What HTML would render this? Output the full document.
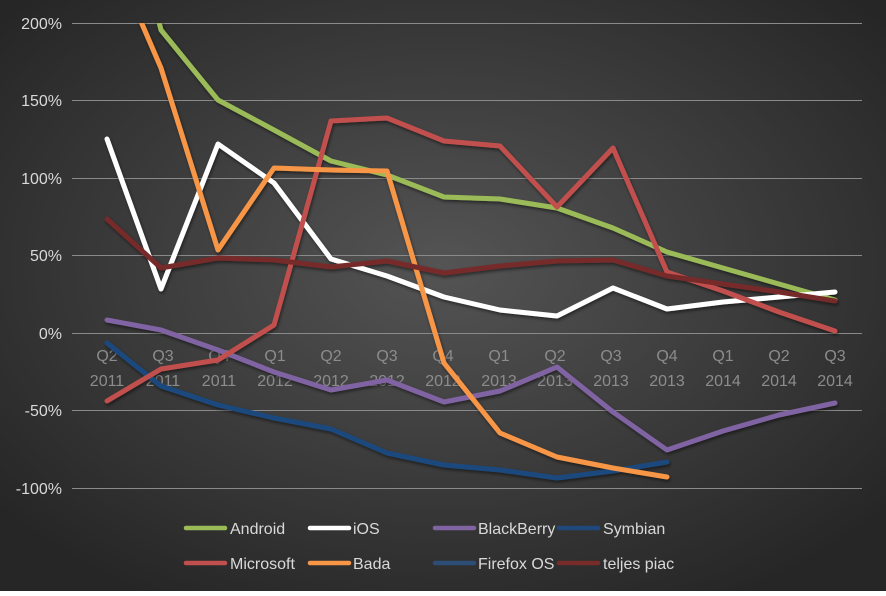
<!DOCTYPE html><html><head><style>body{margin:0;width:886px;height:591px;overflow:hidden}</style></head><body>
<svg width="886" height="591" xmlns="http://www.w3.org/2000/svg" font-family="Liberation Sans, sans-serif">
<defs><radialGradient id="bg" cx="50%" cy="45%" r="65%"><stop offset="0" stop-color="#545454"/><stop offset="1" stop-color="#262626"/></radialGradient>
<clipPath id="c"><rect x="60" y="23" width="820" height="480"/></clipPath>
<filter id="sh"><feDropShadow dx="1" dy="2" stdDeviation="1.5" flood-color="#000" flood-opacity="0.5"/></filter></defs>
<rect width="886" height="591" fill="url(#bg)"/>
<g stroke="#8a8a8a" stroke-width="1"><line x1="72" x2="862" y1="23.5" y2="23.5"/><line x1="72" x2="862" y1="100.5" y2="100.5"/><line x1="72" x2="862" y1="178.5" y2="178.5"/><line x1="72" x2="862" y1="255.5" y2="255.5"/><line x1="72" x2="862" y1="333.5" y2="333.5"/><line x1="72" x2="862" y1="410.5" y2="410.5"/><line x1="72" x2="862" y1="488.5" y2="488.5"/></g>
<g fill="#d9d9d9" font-size="16" text-anchor="end"><text x="62" y="29">200%</text><text x="62" y="106">150%</text><text x="62" y="184">100%</text><text x="62" y="261">50%</text><text x="62" y="339">0%</text><text x="62" y="416">-50%</text><text x="62" y="494">-100%</text></g>
<g fill="#8c8c8c" font-size="16" text-anchor="middle">
<text x="107" y="361">Q2</text><text x="107" y="386">2011</text>
<text x="163" y="361">Q3</text><text x="163" y="386">2011</text>
<text x="219" y="361">Q4</text><text x="219" y="386">2011</text>
<text x="275" y="361">Q1</text><text x="275" y="386">2012</text>
<text x="331" y="361">Q2</text><text x="331" y="386">2012</text>
<text x="387" y="361">Q3</text><text x="387" y="386">2012</text>
<text x="443" y="361">Q4</text><text x="443" y="386">2012</text>
<text x="499" y="361">Q1</text><text x="499" y="386">2013</text>
<text x="555" y="361">Q2</text><text x="555" y="386">2013</text>
<text x="611" y="361">Q3</text><text x="611" y="386">2013</text>
<text x="667" y="361">Q4</text><text x="667" y="386">2013</text>
<text x="723" y="361">Q1</text><text x="723" y="386">2014</text>
<text x="779" y="361">Q2</text><text x="779" y="386">2014</text>
<text x="835" y="361">Q3</text><text x="835" y="386">2014</text></g>
<g clip-path="url(#c)" fill="none" stroke-width="5" stroke-linejoin="round" stroke-linecap="round" filter="url(#sh)">
<polyline stroke="#9bbb59" points="156,10 161,30 218,100 274,130 331,161 387,175 444,197 500,199 557,208 613,228 667,252 723,268 779,284 835,300"/>
<polyline stroke="#ffffff" points="107,139 161,289 218,144 274,183 331,259 387,276 444,297 500,310 557,316 613,288 667,309 723,302 779,297 835,292"/>
<polyline stroke="#8064a2" points="107,320 161,330 218,350 274,372 331,390 387,380 444,402 500,391 557,367 613,412 667,450 723,431 779,415 835,403"/>
<polyline stroke="#1f497d" points="107,343 161,386 218,405 274,418 331,429 387,453 444,465 500,470 557,478 613,471 667,462"/>
<polyline stroke="#c0504d" points="107,401 161,369 218,360 274,325 331,121 387,118 444,141 500,146 557,207 613,148 667,272 723,291 779,312 835,331"/>
<polyline stroke="#f79646" points="136,10 161,68 218,250 274,168 331,170 387,171 444,363 500,433 557,457 613,468 667,477"/>
<polyline stroke="#772c2a" points="107,219 161,268 218,258 274,260 331,267 387,261 444,273 500,266 557,261 613,260 667,276 723,284 779,292 835,301"/>
</g>
<g stroke-width="4.5" stroke-linecap="round">
<line x1="186" x2="225" y1="528" y2="528" stroke="#9bbb59"/><line x1="310" x2="349" y1="528" y2="528" stroke="#fff"/><line x1="435" x2="474" y1="528" y2="528" stroke="#8064a2"/><line x1="559" x2="598" y1="528" y2="528" stroke="#1f497d"/>
<line x1="186" x2="225" y1="563" y2="563" stroke="#c0504d"/><line x1="310" x2="349" y1="563" y2="563" stroke="#f79646"/><line x1="435" x2="474" y1="563" y2="563" stroke="#2c4d75"/><line x1="559" x2="598" y1="563" y2="563" stroke="#772c2a"/></g>
<g fill="#d9d9d9" font-size="16"><text x="230" y="534">Android</text><text x="353" y="534">iOS</text><text x="478" y="534">BlackBerry</text><text x="603" y="534">Symbian</text>
<text x="230" y="569">Microsoft</text><text x="353" y="569">Bada</text><text x="478" y="569">Firefox OS</text><text x="603" y="569">teljes piac</text></g>
</svg></body></html>
